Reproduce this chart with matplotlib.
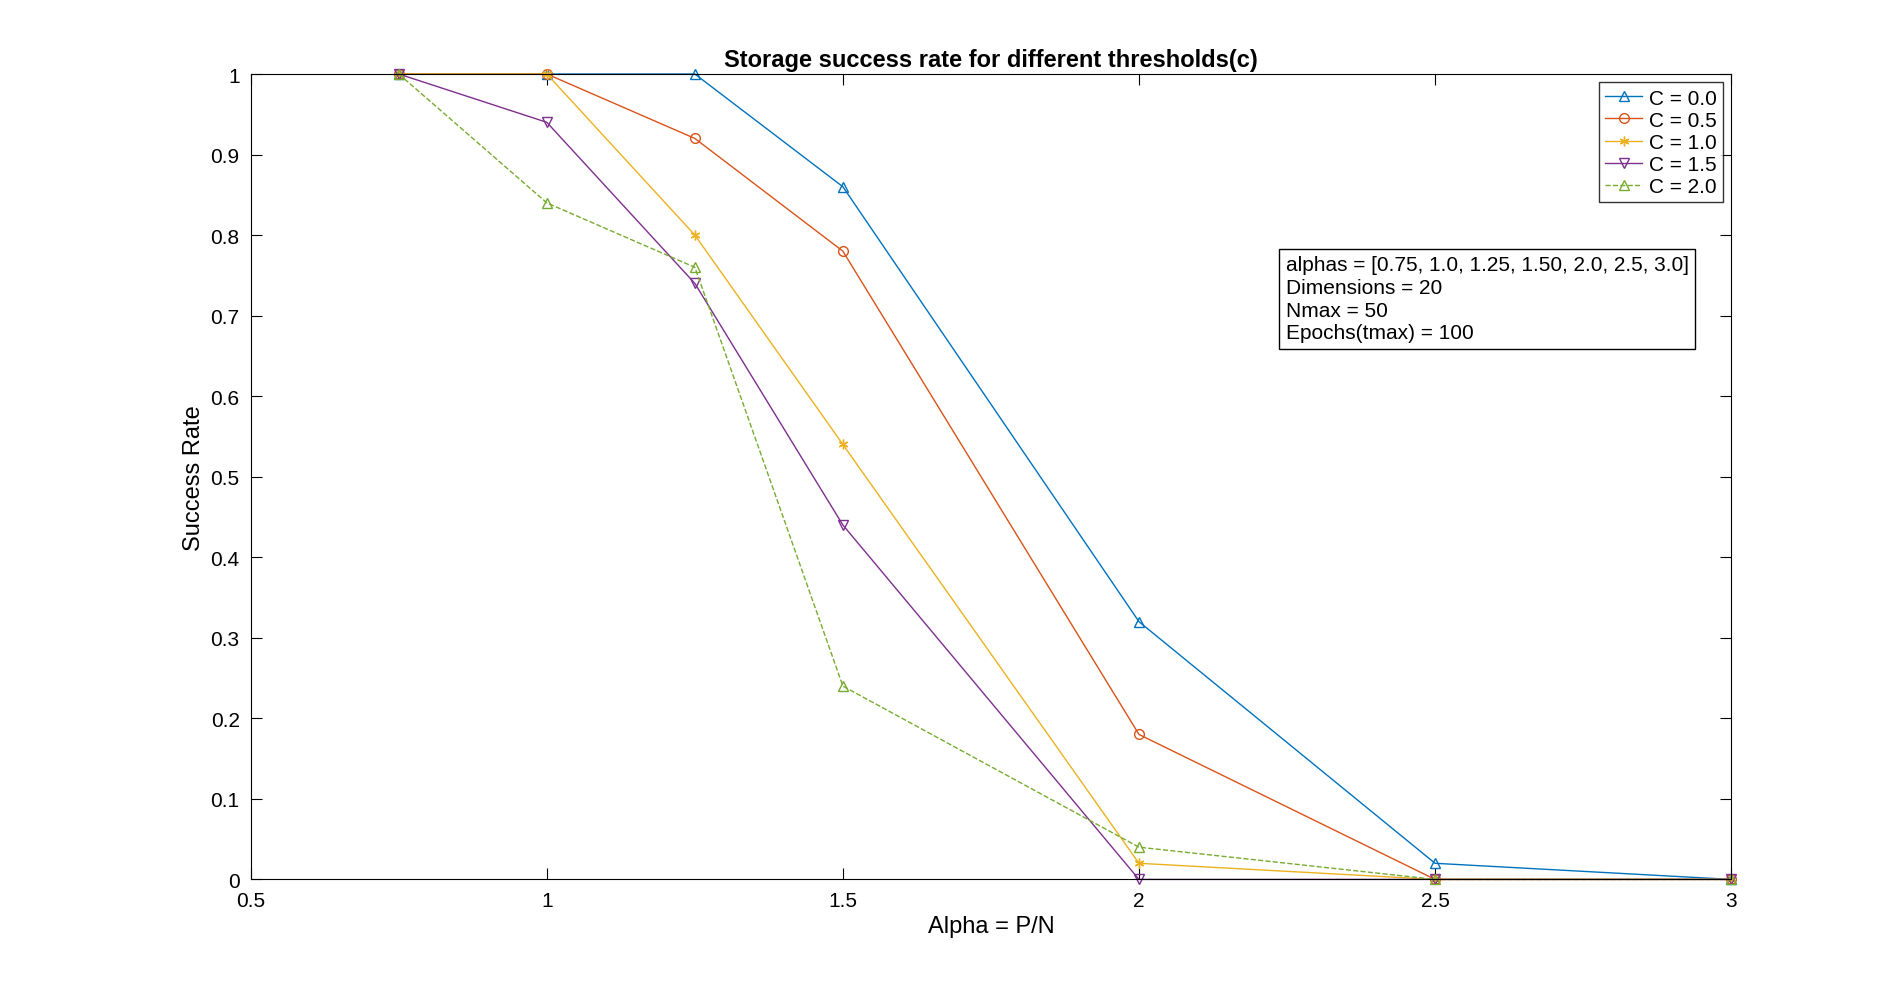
import matplotlib
matplotlib.use("Agg")
import matplotlib.pyplot as plt

alphas = [0.75, 1.0, 1.25, 1.5, 2.0, 2.5, 3.0]
labels = ["C = 0.0", "C = 0.5", "C = 1.0", "C = 1.5", "C = 2.0"]
rates = [
    [1, 1, 1, 0.86, 0.32, 0.02, 0],
    [1, 1, 0.92, 0.78, 0.18, 0, 0],
    [1, 1, 0.80, 0.54, 0.02, 0, 0],
    [1, 0.94, 0.74, 0.44, 0, 0, 0],
    [1, 0.84, 0.76, 0.24, 0.04, 0, 0],
]
colors = ["#0072BD", "#D95319", "#EDB120", "#7E2F8E", "#77AC30"]
markers = ["^", "o", (6, 2, 0), "v", "^"]
styles = ["-", "-", "-", "-", "--"]

plt.rcParams['font.family'] = ['Arial', 'Liberation Sans', 'DejaVu Sans']
fig = plt.figure(figsize=(19.04, 9.87), dpi=100)
ax = fig.add_axes([0.1317, 0.108, 0.7775, 0.816])
for y, lab, c, m, s in zip(rates, labels, colors, markers, styles):
    ax.plot(alphas, y, linestyle=s, color=c, marker=m, markersize=7,
            markerfacecolor='none', linewidth=1, label=lab, clip_on=False)
ax.set_xlim(0.5, 3)
ax.set_ylim(0, 1)
ax.set_xticks([0.5, 1, 1.5, 2, 2.5, 3])
ax.set_xticklabels(["0.5", "1", "1.5", "2", "2.5", "3"])
ax.set_yticks([i / 10 for i in range(11)])
ax.set_yticklabels(["0"] + [f"{i/10:g}" for i in range(1, 10)] + ["1"])
ax.tick_params(direction='in', top=True, right=True, labelsize=15, length=8, pad=8)
ax.set_xlabel("Alpha = P/N", fontsize=17)
ax.set_ylabel("Success Rate", fontsize=17)
ax.set_title("Storage success rate for different thresholds(c)", fontsize=17, fontweight='bold')
leg = ax.legend(loc='upper right', fontsize=15, fancybox=False, edgecolor='black',
                handlelength=1.8, handletextpad=0.3, borderpad=0.3, labelspacing=0.15,
                borderaxespad=0.4)
leg.get_frame().set_linewidth(1)
ax.text(0.699, 0.775,
        "alphas = [0.75, 1.0, 1.25, 1.50, 2.0, 2.5, 3.0]\nDimensions = 20\nNmax = 50\nEpochs(tmax) = 100",
        transform=ax.transAxes, fontsize=15, va='top', ha='left', linespacing=1.25,
        bbox=dict(boxstyle='square,pad=0.3', fc='white', ec='black'))
fig.savefig("out.png", dpi=100)
